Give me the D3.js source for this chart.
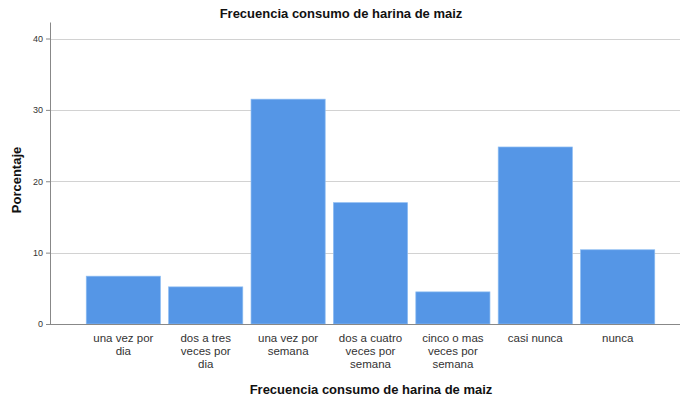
<!DOCTYPE html>
<html>
<head>
<meta charset="utf-8">
<script src="https://cdn.jsdelivr.net/npm/d3@7"></script>
<style>
  body { margin: 0; background: #fff; }
  svg text { font-family: Arial, "Liberation Sans", sans-serif; }
</style>
</head>
<body>
<svg id="chart" width="682" height="402"></svg>
<script>
// categories + percentages
const categories = [
  ["una vez por", "dia"],
  ["dos a tres", "veces por", "dia"],
  ["una vez por", "semana"],
  ["dos a cuatro", "veces por", "semana"],
  ["cinco o mas", "veces por", "semana"],
  ["casi nunca"],
  ["nunca"]
];
const percentages = [6.7, 5.2, 31.5, 17.0, 4.5, 24.8, 10.4];
const yTicks = [0, 10, 20, 30, 40];

var svg = d3.select("#chart");
var plotLeft = 50, plotRight = 680, plotTop = 38.5, plotBottom = 324;

let x = d3.scaleBand()
  .domain(d3.range(categories.length))
  .range([plotLeft, 691])
  .paddingInner(0.1)
  .paddingOuter(0.44);

let y = d3.scaleLinear()
  .domain([0, 40])
  .range([plotBottom, plotTop]);

// grid lines
svg.append("g")
  .selectAll("line")
  .data(yTicks.filter(d => d > 0))
  .enter()
  .append("line")
  .attr("x1", plotLeft)
  .attr("x2", plotRight)
  .attr("y1", d => Math.round(y(d)) + 0.5)
  .attr("y2", d => Math.round(y(d)) + 0.5)
  .attr("stroke", "#d2d2d2")
  .attr("stroke-width", 1);

// bars
svg.selectAll("rect.bar")
  .data(percentages)
  .enter()
  .append("rect")
  .attr("class", "bar")
  .attr("x", (d, i) => x(i))
  .attr("width", x.bandwidth())
  .attr("y", d => y(d))
  .attr("height", d => y(0) - y(d))
  .attr("fill", "#5596e6")
  .attr("stroke", "#8cbcf2")
  .attr("stroke-width", 0.7);

// y axis
let yAxis = d3.axisLeft(y)
  .tickValues(yTicks)
  .tickSize(4)
  .tickPadding(3);

let gy = svg.append("g")
  .attr("transform", `translate(${plotLeft},0)`)
  .call(yAxis);
gy.select(".domain").attr("stroke", "#888").attr("d", `M0.5,${plotTop - 16}V${plotBottom}`);
gy.selectAll(".tick line").attr("stroke", "#888");
gy.selectAll(".tick text")
  .attr("font-size", 9)
  .attr("fill", "#333");

// x axis baseline
svg.append("line")
  .attr("x1", plotLeft)
  .attr("x2", plotRight)
  .attr("y1", plotBottom + 0.5)
  .attr("y2", plotBottom + 0.5)
  .attr("stroke", "#888");

// category labels
let lbl = svg.selectAll("text.cat")
  .data(categories)
  .enter()
  .append("text")
  .attr("class", "cat")
  .attr("text-anchor", "middle")
  .attr("font-size", 11.5)
  .attr("fill", "#333")
  .attr("x", (d, i) => x(i) + x.bandwidth() / 2)
  .attr("y", plotBottom + 18);

lbl.selectAll("tspan")
  .data(d => d)
  .enter()
  .append("tspan")
  .attr("x", function() { return this.parentNode.getAttribute("x"); })
  .attr("dy", (d, i) => i == 0 ? 0 : 13)
  .text(d => d);

// titles
svg.append("text")
  .attr("x", 341)
  .attr("y", 18)
  .attr("text-anchor", "middle")
  .attr("font-size", 13)
  .attr("font-weight", "bold")
  .attr("fill", "#111")
  .text("Frecuencia consumo de harina de maiz");

svg.append("text")
  .attr("x", 371)
  .attr("y", 394)
  .attr("text-anchor", "middle")
  .attr("font-size", 13)
  .attr("font-weight", "bold")
  .attr("fill", "#111")
  .text("Frecuencia consumo de harina de maiz");

svg.append("text")
  .attr("transform", "translate(21,180) rotate(-90)")
  .attr("text-anchor", "middle")
  .attr("font-size", 13)
  .attr("font-weight", "bold")
  .attr("fill", "#111")
  .text("Porcentaje");
</script>
</body>
</html>
